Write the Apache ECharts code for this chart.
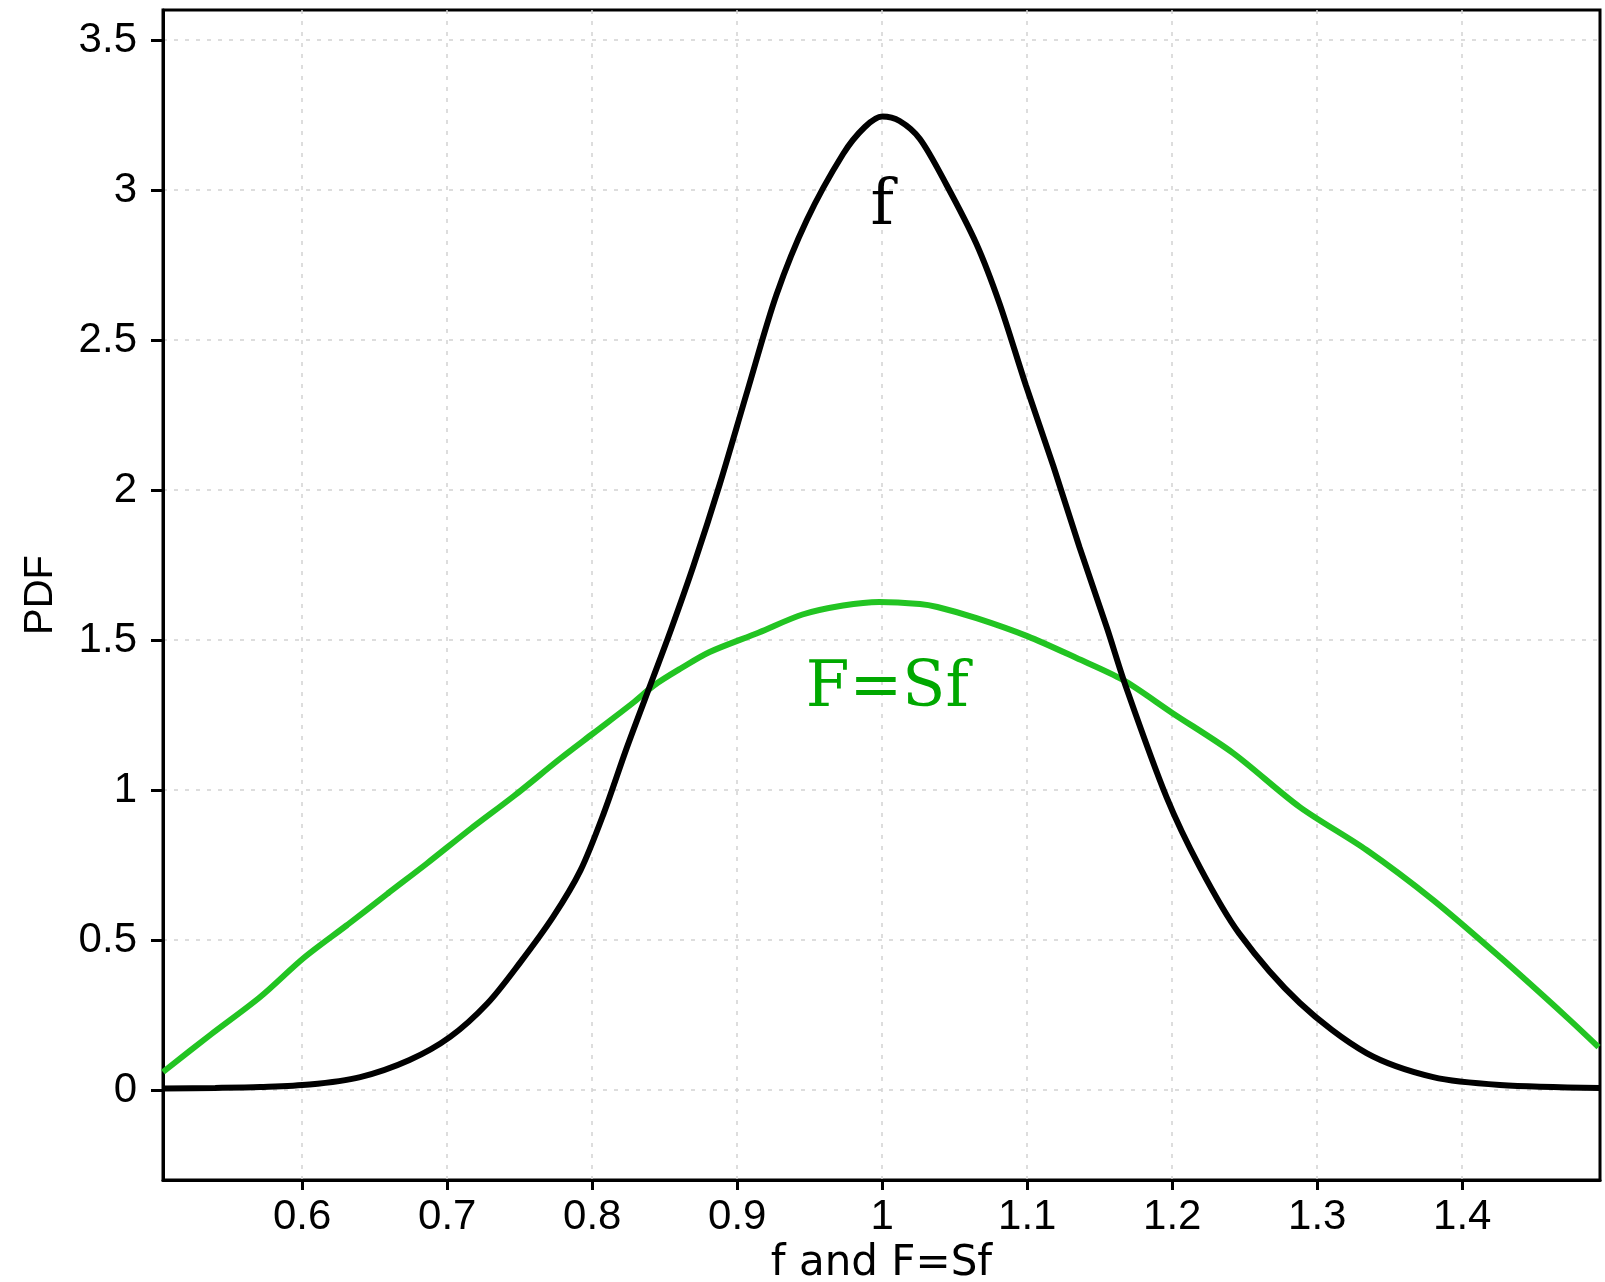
<!DOCTYPE html>
<html>
<head>
<meta charset="utf-8">
<script src="https://cdn.jsdelivr.net/npm/echarts@6/dist/echarts.min.js"></script>
<style>
html,body{margin:0;padding:0;background:#fff;}
#chart{width:1605px;height:1282px;}
</style>
</head>
<body>
<div id="chart"></div>
<script>
// f (black curve): [x, PDF]
const fX = [0.504,0.54,0.571,0.605,0.64,0.674,0.702,0.728,0.75,0.773,0.792,0.808,0.824,0.842,0.854,0.870,0.888,0.907,0.927,0.948,0.973,0.988,1.0,1.012,1.026,1.044,1.065,1.081,1.099,1.118,1.136,1.155,1.168,1.196,1.219,1.246,1.288,1.334,1.380,1.426,1.495];
const fY = [0.005,0.007,0.010,0.018,0.043,0.10,0.177,0.29,0.423,0.577,0.733,0.923,1.143,1.375,1.53,1.75,2.02,2.33,2.65,2.90,3.12,3.21,3.245,3.23,3.17,3.02,2.82,2.62,2.35,2.08,1.81,1.54,1.345,0.977,0.743,0.523,0.29,0.123,0.043,0.017,0.007];
// F = Sf (green curve)
const FX = [0.504,0.537,0.571,0.601,0.631,0.659,0.686,0.716,0.746,0.778,0.801,0.828,0.843,0.861,0.881,0.915,0.945,0.973,0.998,1.026,1.038,1.065,1.100,1.134,1.166,1.200,1.242,1.288,1.334,1.380,1.426,1.472,1.494];
const FY = [0.06,0.185,0.31,0.44,0.55,0.655,0.755,0.87,0.98,1.105,1.19,1.29,1.35,1.405,1.46,1.525,1.585,1.615,1.627,1.62,1.61,1.573,1.513,1.44,1.367,1.257,1.123,0.943,0.80,0.633,0.443,0.243,0.143];
const xTicks = [0.6,0.7,0.8,0.9,1.0,1.1,1.2,1.3,1.4];
const yTicks = [0,0.5,1,1.5,2,2.5,3,3.5];
const fLabel = {text:'f', x:1.0, y:2.94};
const FLabel = {text:'F=Sf', x:1.0035, y:1.333};

const zip = (a,b) => a.map((v,i)=>[v,b[i]]);
const fmt = v => String(+(+v).toFixed(2));

const chart = echarts.init(document.getElementById('chart'));
const gridLine = {show:true, lineStyle:{color:'#d2d2d2', width:1.5, type:[4,7]}};
chart.setOption({
  animation:false,
  grid:{left:163, top:10, right:5, bottom:102, show:true, borderColor:'#000', borderWidth:3, backgroundColor:'#fff', containLabel:false, outerBoundsMode:'none'},
  xAxis:{
    type:'value', min:0.504, max:1.495, splitNumber:10,
    name:'f and F=Sf', nameLocation:'middle', nameGap:60,
    nameTextStyle:{fontFamily:'DejaVu Sans', fontSize:42, color:'#000'},
    axisLine:{show:true, onZero:false, lineStyle:{color:'#000', width:3}},
    axisTick:{show:true, length:10, lineStyle:{color:'#000', width:3}, customValues:xTicks},
    axisLabel:{fontFamily:'Liberation Sans', fontSize:42, color:'#000', margin:16, formatter:fmt, customValues:xTicks},
    splitLine:gridLine
  },
  yAxis:{
    type:'value', min:-0.3, max:3.6, splitNumber:8,
    name:'PDF', nameLocation:'middle', nameGap:102, nameRotate:90,
    nameTextStyle:{fontFamily:'Liberation Sans', fontSize:40, color:'#000'},
    axisLine:{show:true, onZero:false, lineStyle:{color:'#000', width:3}},
    axisTick:{show:true, length:12, lineStyle:{color:'#000', width:3}, customValues:yTicks},
    axisLabel:{fontFamily:'Liberation Sans', fontSize:42, color:'#000', margin:26, formatter:fmt, customValues:yTicks},
    splitLine:gridLine
  },
  series:[
    {
      type:'line', name:'F=Sf', data:zip(FX,FY), showSymbol:false, smooth:0.3, clip:true,
      lineStyle:{color:'#22c422', width:6}, z:2,
      markPoint:{symbol:'circle', symbolSize:0, silent:true,
        data:[{coord:[FLabel.x, FLabel.y], label:{show:true, formatter:FLabel.text, position:'inside', fontFamily:'DejaVu Serif', fontSize:63, color:'#00a800'}}]}
    },
    {
      type:'line', name:'f', data:zip(fX,fY), showSymbol:false, smooth:0.3, clip:true,
      lineStyle:{color:'#000', width:6}, z:3,
      markPoint:{symbol:'circle', symbolSize:0, silent:true,
        data:[{coord:[fLabel.x, fLabel.y], label:{show:true, formatter:fLabel.text, position:'inside', fontFamily:'DejaVu Serif', fontSize:63, color:'#000'}}]}
    }
  ]
});
</script>
</body>
</html>
